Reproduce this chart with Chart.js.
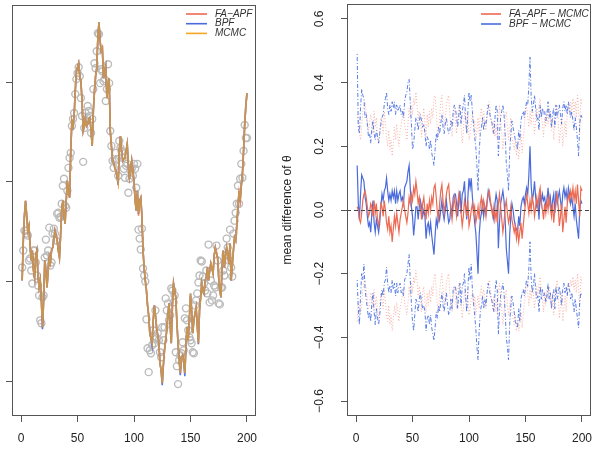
<!DOCTYPE html>
<html>
<head>
<meta charset="utf-8">
<script src="https://cdn.jsdelivr.net/npm/chart.js@4.4.0/dist/chart.umd.min.js"></script>
<style>
  html, body { margin: 0; padding: 0; background: #fff; }
  #wrap { position: relative; width: 592px; height: 450px; }
  canvas { position: absolute; top: 0; }
  #left { left: 0; }
  #right { left: 270px; }
</style>
</head>
<body>
<div id="wrap">
  <canvas id="left" width="270" height="450"></canvas>
  <canvas id="right" width="322" height="450"></canvas>
</div>
<script>
// time steps and axis ticks
const steps = Array.from({ length: 200 }, (_, i) => i + 1);
const xTicks = [0, 50, 100, 150, 200];
const leftYTicks = [-1, 0, 1, 2];
const rightYTicks = [-0.6, -0.4, -0.2, 0, 0.2, 0.4, 0.6];

// left panel: observations (grey circles) and filtered means
const observations = [
  0.14, 0.31, 0.51, 0.51, 0.48, 0.46, 0.21, 0.23, 0.11, -0.02,
  0.31, 0.31, 0.19, 0.06, -0.04, -0.14, -0.39, -0.42, -0.16, -0.14,
  0.24, 0.42, 0.26, 0.31, 0.54, 0.16, 0.19, 0.48, 0.53, 0.48,
  0.41, 0.68, 0.69, 0.64, 0.65, 0.78, 0.96, 1.03, 0.76, 0.74,
  0.91, 1.14, 1.24, 1.29, 1.56, 1.63, 1.69, 1.88, 2.03, 2.09,
  2.15, 2.06, 1.84, 1.66, 1.20, 1.54, 1.69, 1.61, 1.76, 1.71,
  1.66, 1.49, 1.63, 1.93, 2.19, 2.14, 2.31, 2.49, 2.48, 1.99,
  2.13, 2.11, 2.01, 2.03, 1.81, 1.93, 2.18, 1.99, 1.51, 1.36,
  1.21, 1.14, 1.21, 1.29, 1.23, 1.06, 1.41, 1.34, 1.31, 1.24,
  1.13, 1.04, 1.16, 1.18, 0.89, 1.03, 1.11, 1.13, 1.06, 1.18,
  1.13, 0.94, 1.18, 0.52, 0.43, 0.32, 0.53, 0.13, 0.06, 0.00,
  -0.38, -0.67, -0.91, -0.69, -0.72, -0.64, -0.49, -0.62, -0.29, -0.57,
  -0.52, -0.59, -0.71, -0.76, -0.46, -0.59, -0.46, -0.17, -0.29, -0.22,
  -0.39, -0.34, -0.07, -0.09, -0.21, -0.14, -0.71, -0.85, -1.03, -0.79,
  -0.74, -0.72, -0.61, -0.69, -0.37, -0.27, -0.39, -0.49, -0.56, -0.59,
  -0.62, -0.71, -0.72, -0.24, -0.19, -0.12, -0.01, 0.06, 0.21, 0.20,
  0.05, -0.02, -0.09, 0.11, -0.12, 0.37, -0.21, 0.01, -0.19, -0.14,
  -0.04, -0.06, 0.36, 0.21, -0.22, -0.23, -0.06, -0.06, 0.11, 0.06,
  0.26, 0.43, 0.34, 0.21, 0.52, 0.14, 0.05, 0.48, 0.61, 0.69,
  0.78, 0.96, 0.78, 1.03, 1.18, 1.04, 1.31, 1.57, 1.44, 1.44
];

const faApfMean = [
  0.01, 0.41, 0.66, 0.81, 0.66, 0.51, 0.56, 0.36, 0.21, 0.31,
  0.11, 0.04, 0.26, 0.31, 0.06, -0.06, 0.01, -0.19, -0.46, -0.19,
  0.21, 0.11, -0.06, 0.11, 0.24, 0.19, 0.31, 0.34, 0.41, 0.51,
  0.46, 0.41, 0.31, 0.24, 0.46, 0.71, 0.81, 0.66, 0.58, 0.81,
  1.01, 0.91, 0.84, 1.31, 1.61, 1.56, 1.66, 1.91, 2.11, 2.15,
  2.19, 2.06, 2.01, 1.81, 1.51, 1.56, 1.64, 1.56, 1.58, 1.63,
  1.64, 1.51, 1.36, 1.71, 1.91, 2.06, 2.14, 2.44, 2.60, 2.41,
  2.31, 2.34, 2.04, 2.11, 2.16, 1.84, 1.96, 2.04, 1.51, 1.36,
  1.21, 1.19, 1.14, 1.11, 1.05, 0.99, 1.31, 1.46, 1.31, 1.21,
  1.23, 1.24, 1.31, 1.38, 1.16, 1.04, 1.11, 1.21, 1.11, 1.01,
  0.81, 0.71, 0.91, 0.66, 0.81, 0.84, 0.66, 0.31, 0.14, 0.01,
  -0.09, -0.24, -0.34, -0.52, -0.57, -0.62, -0.39, -0.24, -0.34, -0.46,
  -0.54, -0.62, -0.82, -0.89, -1.02, -0.84, -0.69, -0.59, -0.49, -0.34,
  -0.22, -0.44, -0.62, -0.24, -0.02, -0.09, -0.16, -0.42, -0.62, -0.79,
  -0.92, -0.76, -0.74, -0.79, -0.92, -0.64, -0.46, -0.59, -0.39, -0.14,
  -0.29, -0.52, -0.39, -0.32, -0.26, -0.44, -0.62, -0.29, -0.16, -0.02,
  -0.09, -0.12, 0.01, 0.04, 0.14, 0.01, 0.11, 0.18, 0.13, 0.08,
  0.26, 0.34, 0.29, 0.24, 0.04, -0.09, -0.16, 0.16, 0.31, 0.14,
  0.26, 0.34, 0.26, 0.18, 0.38, 0.01, 0.16, 0.31, 0.44, 0.41,
  0.56, 0.74, 0.89, 0.81, 0.96, 1.08, 1.31, 1.58, 1.76, 1.89
];

const bpfMean = [
  0.01, 0.41, 0.66, 0.81, 0.66, 0.51, 0.56, 0.36, 0.21, 0.31,
  0.11, 0.04, 0.26, 0.31, 0.06, -0.06, 0.01, -0.19, -0.48, -0.19,
  0.21, 0.11, -0.06, 0.11, 0.24, 0.19, 0.31, 0.34, 0.41, 0.51,
  0.46, 0.41, 0.31, 0.24, 0.46, 0.71, 0.81, 0.66, 0.58, 0.81,
  1.01, 0.91, 0.84, 1.31, 1.61, 1.56, 1.66, 1.91, 2.11, 2.15,
  2.19, 2.06, 2.01, 1.81, 1.51, 1.56, 1.64, 1.56, 1.58, 1.63,
  1.64, 1.51, 1.36, 1.71, 1.91, 2.06, 2.14, 2.44, 2.60, 2.41,
  2.31, 2.34, 2.04, 2.11, 2.16, 1.84, 1.96, 2.04, 1.51, 1.36,
  1.21, 1.19, 1.14, 1.11, 1.05, 0.97, 1.31, 1.46, 1.31, 1.21,
  1.23, 1.24, 1.31, 1.38, 1.16, 1.04, 1.11, 1.21, 1.11, 1.01,
  0.81, 0.71, 0.91, 0.68, 0.81, 0.84, 0.66, 0.31, 0.12, 0.01,
  -0.09, -0.24, -0.34, -0.52, -0.57, -0.64, -0.39, -0.24, -0.34, -0.46,
  -0.54, -0.62, -0.82, -0.89, -1.04, -0.84, -0.69, -0.59, -0.49, -0.34,
  -0.22, -0.44, -0.62, -0.24, -0.02, -0.09, -0.16, -0.42, -0.62, -0.79,
  -0.94, -0.76, -0.74, -0.79, -0.95, -0.64, -0.46, -0.59, -0.39, -0.12,
  -0.29, -0.52, -0.39, -0.32, -0.26, -0.44, -0.63, -0.29, -0.16, -0.02,
  -0.09, -0.12, 0.01, 0.04, 0.14, 0.01, 0.11, 0.18, 0.13, 0.08,
  0.26, 0.34, 0.29, 0.24, 0.03, -0.09, -0.16, 0.16, 0.31, 0.14,
  0.26, 0.34, 0.26, 0.18, 0.38, 0.01, 0.16, 0.31, 0.44, 0.41,
  0.56, 0.74, 0.91, 0.81, 0.96, 1.08, 1.31, 1.58, 1.76, 1.89
];

const mcmcMean = [
  0.01, 0.41, 0.66, 0.81, 0.66, 0.51, 0.56, 0.36, 0.21, 0.31,
  0.11, 0.04, 0.26, 0.31, 0.06, -0.06, 0.01, -0.19, -0.46, -0.19,
  0.21, 0.11, -0.06, 0.11, 0.24, 0.19, 0.31, 0.34, 0.41, 0.51,
  0.46, 0.41, 0.31, 0.24, 0.46, 0.71, 0.81, 0.66, 0.58, 0.81,
  1.01, 0.91, 0.84, 1.31, 1.61, 1.56, 1.66, 1.91, 2.11, 2.15,
  2.19, 2.06, 2.01, 1.81, 1.51, 1.56, 1.64, 1.56, 1.58, 1.63,
  1.64, 1.51, 1.36, 1.71, 1.91, 2.06, 2.14, 2.44, 2.60, 2.41,
  2.31, 2.34, 2.04, 2.11, 2.16, 1.84, 1.96, 2.04, 1.51, 1.36,
  1.21, 1.19, 1.14, 1.11, 1.05, 0.99, 1.31, 1.46, 1.31, 1.21,
  1.23, 1.24, 1.31, 1.38, 1.16, 1.04, 1.11, 1.21, 1.11, 1.01,
  0.81, 0.71, 0.91, 0.68, 0.81, 0.84, 0.66, 0.31, 0.14, 0.01,
  -0.09, -0.24, -0.34, -0.52, -0.57, -0.62, -0.39, -0.24, -0.34, -0.46,
  -0.54, -0.62, -0.82, -0.89, -1.02, -0.84, -0.69, -0.59, -0.49, -0.34,
  -0.22, -0.44, -0.62, -0.24, -0.02, -0.09, -0.16, -0.42, -0.62, -0.79,
  -0.92, -0.76, -0.74, -0.79, -0.92, -0.64, -0.46, -0.59, -0.39, -0.12,
  -0.29, -0.52, -0.39, -0.32, -0.26, -0.44, -0.62, -0.29, -0.16, -0.02,
  -0.09, -0.12, 0.01, 0.04, 0.14, 0.01, 0.11, 0.18, 0.13, 0.08,
  0.26, 0.34, 0.29, 0.24, 0.04, -0.09, -0.16, 0.16, 0.31, 0.14,
  0.26, 0.34, 0.26, 0.18, 0.38, 0.01, 0.16, 0.31, 0.44, 0.41,
  0.56, 0.74, 0.91, 0.81, 0.96, 1.08, 1.31, 1.58, 1.76, 1.89
];

// right panel: mean difference of theta against MCMC, with bands
const faDiff = [
  0.01, 0.00, -0.03, -0.04, -0.01, 0.03, 0.05, 0.06, 0.04, 0.01,
  -0.02, -0.01, 0.02, 0.01, -0.02, 0.03, -0.01, 0.02, -0.03, -0.05,
  -0.02, 0.02, 0.01, -0.02, 0.03, 0.00, -0.04, -0.06, -0.02, -0.07,
  -0.05, -0.10, -0.06, -0.02, -0.05, -0.01, -0.04, -0.07, -0.03, -0.01,
  0.01, 0.03, 0.00, -0.02, -0.04, -0.01, 0.04, 0.02, 0.05, 0.03,
  0.07, 0.05, 0.09, 0.06, 0.02, 0.04, 0.01, -0.03, 0.02, 0.04,
  0.00, -0.03, 0.02, -0.01, 0.03, 0.00, 0.04, 0.02, 0.07, 0.08,
  0.04, -0.01, -0.03, 0.02, 0.06, 0.08, 0.03, -0.01, 0.02, 0.05,
  0.07, 0.08, 0.03, 0.00, -0.03, 0.01, 0.04, 0.01, -0.02, 0.02,
  0.05, 0.02, -0.01, -0.05, -0.02, 0.03, 0.01, -0.02, 0.03, -0.05,
  -0.03, 0.00, 0.02, -0.01, 0.01, -0.04, -0.02, 0.01, -0.03, 0.02,
  0.04, 0.00, 0.03, 0.01, -0.02, 0.02, 0.05, 0.06, 0.03, 0.00,
  -0.02, 0.01, -0.03, 0.00, -0.04, 0.02, 0.05, 0.01, -0.03, -0.07,
  -0.04, 0.01, 0.03, -0.01, -0.04, -0.02, 0.01, -0.03, -0.05, -0.07,
  -0.05, -0.09, -0.06, -0.10, -0.07, -0.04, -0.09, -0.05, -0.01, 0.02,
  0.05, 0.02, -0.01, 0.03, 0.00, 0.04, 0.02, -0.02, 0.01, 0.04,
  0.01, 0.05, 0.07, 0.03, 0.00, -0.03, 0.02, -0.01, 0.03, 0.00,
  0.04, 0.01, -0.02, 0.02, -0.04, 0.00, 0.03, 0.05, 0.01, -0.05,
  -0.02, 0.02, -0.07, -0.03, 0.01, -0.04, 0.02, 0.05, 0.03, 0.06,
  0.04, 0.07, 0.03, 0.06, 0.02, 0.08, 0.03, -0.02, 0.07, 0.06
];

const bpfDiff = [
  0.14, 0.02, -0.03, 0.05, 0.11, 0.10, 0.09, 0.04, 0.02, -0.02,
  -0.05, -0.04, -0.07, -0.01, 0.03, -0.04, -0.07, -0.03, -0.05, -0.07,
  -0.04, 0.01, 0.05, 0.03, 0.06, 0.07, 0.10, 0.06, 0.03, 0.05,
  0.03, 0.06, 0.04, 0.06, 0.02, 0.06, 0.03, 0.05, 0.06, 0.03,
  0.04, 0.02, 0.07, 0.08, 0.09, 0.12, 0.14, 0.07, 0.01, -0.02,
  -0.08, -0.04, 0.01, 0.01, -0.03, 0.01, 0.03, 0.01, -0.02, 0.00,
  -0.02, -0.09, -0.05, -0.04, -0.07, -0.04, -0.08, -0.11, -0.14, -0.08,
  -0.03, -0.05, -0.01, -0.03, 0.00, 0.03, -0.01, -0.03, 0.00, 0.03,
  -0.01, -0.04, -0.03, 0.01, -0.02, 0.04, 0.05, 0.05, 0.02, -0.02,
  0.03, 0.06, -0.01, 0.05, 0.06, 0.09, 0.02, -0.03, 0.04, 0.10,
  0.07, 0.10, 0.04, 0.00, -0.04, -0.07, -0.13, -0.20, -0.08, -0.03,
  -0.01, 0.02, -0.02, 0.01, -0.01, 0.03, 0.06, 0.04, 0.02, 0.01,
  -0.01, -0.03, 0.02, 0.05, 0.03, -0.12, -0.04, 0.02, 0.04, 0.06,
  0.03, -0.03, -0.12, -0.16, -0.20, -0.08, -0.02, 0.02, 0.00, -0.03,
  -0.05, -0.06, -0.07, -0.02, -0.05, 0.01, 0.03, 0.04, 0.02, 0.05,
  0.07, 0.05, 0.11, 0.20, 0.08, 0.03, 0.05, 0.09, 0.04, 0.01,
  0.02, -0.03, 0.06, 0.02, 0.05, 0.03, 0.04, 0.01, 0.03, 0.07,
  0.02, 0.04, -0.01, 0.03, 0.05, -0.01, 0.06, 0.02, 0.04, 0.06,
  0.03, 0.00, 0.05, 0.07, 0.04, 0.06, 0.03, 0.07, 0.05, 0.02,
  0.04, 0.01, -0.02, 0.02, -0.03, -0.06, -0.09, 0.00, 0.03, 0.02
];

const faUpper = [
  0.30, 0.27, 0.24, 0.22, 0.26, 0.31, 0.33, 0.34, 0.31, 0.28,
  0.25, 0.27, 0.30, 0.28, 0.24, 0.31, 0.26, 0.29, 0.23, 0.21,
  0.25, 0.29, 0.28, 0.24, 0.31, 0.27, 0.23, 0.20, 0.25, 0.19,
  0.22, 0.17, 0.21, 0.26, 0.22, 0.27, 0.23, 0.20, 0.25, 0.27,
  0.29, 0.31, 0.27, 0.25, 0.22, 0.27, 0.32, 0.29, 0.33, 0.30,
  0.35, 0.33, 0.37, 0.33, 0.28, 0.31, 0.28, 0.23, 0.29, 0.32,
  0.27, 0.23, 0.30, 0.26, 0.31, 0.27, 0.32, 0.29, 0.35, 0.36,
  0.31, 0.25, 0.23, 0.29, 0.34, 0.36, 0.30, 0.26, 0.29, 0.33,
  0.35, 0.36, 0.30, 0.27, 0.23, 0.28, 0.32, 0.28, 0.24, 0.29,
  0.33, 0.29, 0.26, 0.21, 0.25, 0.31, 0.28, 0.24, 0.30, 0.22,
  0.24, 0.27, 0.30, 0.26, 0.28, 0.22, 0.25, 0.29, 0.24, 0.30,
  0.32, 0.27, 0.31, 0.28, 0.25, 0.29, 0.33, 0.34, 0.30, 0.27,
  0.24, 0.28, 0.23, 0.27, 0.22, 0.29, 0.33, 0.28, 0.24, 0.19,
  0.23, 0.29, 0.31, 0.26, 0.22, 0.25, 0.29, 0.23, 0.21, 0.19,
  0.22, 0.17, 0.21, 0.16, 0.20, 0.24, 0.18, 0.22, 0.27, 0.30,
  0.33, 0.29, 0.26, 0.31, 0.27, 0.32, 0.29, 0.24, 0.28, 0.32,
  0.28, 0.33, 0.35, 0.30, 0.27, 0.23, 0.29, 0.26, 0.31, 0.27,
  0.32, 0.28, 0.25, 0.29, 0.22, 0.27, 0.31, 0.33, 0.28, 0.21,
  0.25, 0.29, 0.20, 0.24, 0.28, 0.23, 0.30, 0.33, 0.30, 0.34,
  0.31, 0.35, 0.30, 0.34, 0.29, 0.36, 0.31, 0.24, 0.35, 0.33
];

const faLower = [
  -0.35, -0.29, -0.31, -0.33, -0.30, -0.25, -0.23, -0.22, -0.25, -0.28,
  -0.31, -0.30, -0.26, -0.28, -0.31, -0.25, -0.30, -0.27, -0.32, -0.34,
  -0.30, -0.26, -0.28, -0.31, -0.25, -0.29, -0.33, -0.35, -0.30, -0.36,
  -0.33, -0.38, -0.34, -0.30, -0.33, -0.29, -0.32, -0.35, -0.31, -0.29,
  -0.27, -0.25, -0.29, -0.31, -0.33, -0.29, -0.24, -0.27, -0.23, -0.26,
  -0.21, -0.23, -0.19, -0.22, -0.27, -0.24, -0.28, -0.32, -0.26, -0.24,
  -0.29, -0.32, -0.26, -0.30, -0.25, -0.29, -0.24, -0.27, -0.21, -0.20,
  -0.25, -0.30, -0.32, -0.26, -0.22, -0.20, -0.25, -0.30, -0.27, -0.23,
  -0.21, -0.20, -0.26, -0.29, -0.32, -0.27, -0.24, -0.28, -0.31, -0.26,
  -0.23, -0.27, -0.30, -0.34, -0.31, -0.25, -0.28, -0.31, -0.25, -0.33,
  -0.31, -0.28, -0.26, -0.30, -0.27, -0.33, -0.30, -0.27, -0.31, -0.26,
  -0.24, -0.28, -0.25, -0.27, -0.31, -0.26, -0.23, -0.22, -0.25, -0.28,
  -0.31, -0.27, -0.32, -0.28, -0.33, -0.26, -0.23, -0.27, -0.31, -0.36,
  -0.32, -0.27, -0.25, -0.30, -0.33, -0.30, -0.27, -0.32, -0.34, -0.36,
  -0.33, -0.38, -0.35, -0.38, -0.36, -0.32, -0.37, -0.33, -0.29, -0.26,
  -0.23, -0.26, -0.30, -0.25, -0.28, -0.24, -0.26, -0.31, -0.27, -0.24,
  -0.27, -0.23, -0.21, -0.25, -0.28, -0.32, -0.26, -0.30, -0.25, -0.28,
  -0.24, -0.27, -0.31, -0.26, -0.33, -0.28, -0.25, -0.22, -0.27, -0.34,
  -0.30, -0.26, -0.35, -0.31, -0.27, -0.32, -0.26, -0.23, -0.25, -0.22,
  -0.24, -0.21, -0.25, -0.22, -0.26, -0.20, -0.25, -0.30, -0.21, -0.23
];

const bpfUpper = [
  0.49, 0.26, 0.24, 0.32, 0.38, 0.36, 0.35, 0.29, 0.30, 0.27,
  0.23, 0.24, 0.21, 0.26, 0.28, 0.24, 0.22, 0.25, 0.23, 0.21,
  0.24, 0.27, 0.29, 0.30, 0.33, 0.35, 0.37, 0.32, 0.30, 0.33,
  0.31, 0.34, 0.32, 0.34, 0.30, 0.33, 0.31, 0.32, 0.33, 0.30,
  0.31, 0.29, 0.34, 0.36, 0.37, 0.40, 0.41, 0.34, 0.27, 0.19,
  0.21, 0.25, 0.29, 0.28, 0.25, 0.28, 0.30, 0.28, 0.26, 0.27,
  0.24, 0.20, 0.23, 0.22, 0.19, 0.22, 0.18, 0.16, 0.14, 0.19,
  0.24, 0.22, 0.26, 0.24, 0.27, 0.30, 0.26, 0.24, 0.27, 0.29,
  0.26, 0.24, 0.25, 0.28, 0.26, 0.31, 0.33, 0.32, 0.29, 0.26,
  0.30, 0.33, 0.27, 0.31, 0.33, 0.36, 0.29, 0.24, 0.31, 0.37,
  0.34, 0.36, 0.31, 0.27, 0.23, 0.20, 0.14, 0.06, 0.18, 0.24,
  0.26, 0.29, 0.25, 0.28, 0.27, 0.30, 0.33, 0.31, 0.29, 0.28,
  0.26, 0.24, 0.29, 0.33, 0.31, 0.17, 0.24, 0.29, 0.31, 0.33,
  0.30, 0.24, 0.15, 0.11, 0.06, 0.18, 0.24, 0.28, 0.26, 0.24,
  0.22, 0.21, 0.19, 0.25, 0.22, 0.28, 0.30, 0.31, 0.29, 0.32,
  0.34, 0.33, 0.39, 0.48, 0.36, 0.31, 0.33, 0.36, 0.32, 0.28,
  0.29, 0.25, 0.33, 0.29, 0.32, 0.30, 0.31, 0.28, 0.30, 0.34,
  0.29, 0.31, 0.26, 0.30, 0.32, 0.26, 0.33, 0.29, 0.31, 0.33,
  0.30, 0.27, 0.32, 0.34, 0.31, 0.33, 0.30, 0.34, 0.32, 0.29,
  0.31, 0.28, 0.25, 0.29, 0.26, 0.22, 0.17, 0.27, 0.30, 0.29
];

const bpfLower = [
  -0.22, -0.31, -0.36, -0.27, -0.20, -0.22, -0.17, -0.25, -0.28, -0.31,
  -0.34, -0.32, -0.35, -0.29, -0.26, -0.32, -0.36, -0.31, -0.34, -0.36,
  -0.33, -0.28, -0.25, -0.27, -0.23, -0.22, -0.18, -0.23, -0.26, -0.24,
  -0.26, -0.22, -0.25, -0.23, -0.27, -0.23, -0.26, -0.24, -0.23, -0.26,
  -0.25, -0.27, -0.22, -0.21, -0.20, -0.17, -0.14, -0.22, -0.29, -0.35,
  -0.38, -0.33, -0.28, -0.29, -0.32, -0.28, -0.26, -0.29, -0.31, -0.30,
  -0.32, -0.38, -0.34, -0.33, -0.36, -0.33, -0.37, -0.39, -0.41, -0.37,
  -0.32, -0.34, -0.30, -0.32, -0.29, -0.26, -0.30, -0.32, -0.29, -0.26,
  -0.30, -0.33, -0.32, -0.28, -0.31, -0.25, -0.24, -0.24, -0.27, -0.31,
  -0.26, -0.23, -0.30, -0.24, -0.23, -0.20, -0.27, -0.32, -0.25, -0.18,
  -0.22, -0.17, -0.25, -0.29, -0.33, -0.37, -0.43, -0.47, -0.38, -0.32,
  -0.30, -0.27, -0.31, -0.28, -0.30, -0.26, -0.23, -0.25, -0.27, -0.28,
  -0.30, -0.32, -0.26, -0.22, -0.25, -0.39, -0.32, -0.27, -0.25, -0.23,
  -0.26, -0.32, -0.40, -0.43, -0.47, -0.36, -0.30, -0.27, -0.29, -0.32,
  -0.35, -0.36, -0.37, -0.31, -0.35, -0.28, -0.26, -0.25, -0.27, -0.24,
  -0.22, -0.24, -0.18, -0.10, -0.21, -0.26, -0.24, -0.20, -0.25, -0.28,
  -0.27, -0.32, -0.24, -0.28, -0.25, -0.27, -0.26, -0.29, -0.27, -0.23,
  -0.28, -0.26, -0.31, -0.27, -0.25, -0.31, -0.24, -0.28, -0.26, -0.24,
  -0.27, -0.30, -0.25, -0.23, -0.26, -0.24, -0.27, -0.23, -0.25, -0.28,
  -0.26, -0.29, -0.32, -0.28, -0.31, -0.34, -0.37, -0.29, -0.26, -0.27
];

const FONT = '"Liberation Sans", Arimo, Arial, sans-serif';
const AXIS = '#555';
const TEXT = '#222';

Chart.defaults.font.family = FONT;
Chart.defaults.font.size = 12;

function pts(values) {
  return values.map((v, i) => ({ x: steps[i], y: v }));
}

function fmtTick(v) {
  return v.toFixed(1).replace('-', '\u2212');
}

// box, zero line, rotated y labels and the inset legend, R style
const framePlugin = {
  id: 'frame',
  beforeDraw(chart) {
    const { ctx, width, height } = chart;
    ctx.save();
    ctx.fillStyle = '#fff';
    ctx.fillRect(0, 0, width, height);
    ctx.restore();
  },
  afterDatasetsDraw(chart, args, opts) {
    const { ctx, chartArea: a, scales } = chart;
    ctx.save();
    if (opts.zeroLine) {
      const y = Math.round(scales.y.getPixelForValue(0)) + 0.5;
      ctx.setLineDash([4, 3]);
      ctx.strokeStyle = '#444';
      ctx.lineWidth = 1;
      ctx.beginPath();
      ctx.moveTo(a.left, y);
      ctx.lineTo(a.right, y);
      ctx.stroke();
      ctx.setLineDash([]);
    }
    const l = Math.round(a.left) + 0.5, t = Math.round(a.top) + 0.5;
    const r = Math.round(a.right) - 0.5, b = Math.round(a.bottom) - 0.5;
    ctx.strokeStyle = AXIS;
    ctx.lineWidth = 1;
    ctx.strokeRect(l, t, r - l, b - t);

    if (opts.yLabels) {
      ctx.font = '12px ' + FONT;
      ctx.fillStyle = TEXT;
      ctx.textAlign = 'center';
      ctx.textBaseline = 'middle';
      scales.y.ticks.forEach(tk => {
        const y = scales.y.getPixelForValue(tk.value);
        ctx.save();
        ctx.translate(opts.yLabels.x, y);
        ctx.rotate(-Math.PI / 2);
        ctx.fillText(fmtTick(tk.value), 0, 0);
        ctx.restore();
      });
    }
    if (opts.yTitle) {
      ctx.font = '12px ' + FONT;
      ctx.fillStyle = TEXT;
      ctx.textAlign = 'center';
      ctx.textBaseline = 'middle';
      ctx.save();
      ctx.translate(opts.yTitle.x, (a.top + a.bottom) / 2);
      ctx.rotate(-Math.PI / 2);
      ctx.fillText(opts.yTitle.text, 0, 0);
      ctx.restore();
    }
    if (opts.legend) {
      const lg = opts.legend;
      ctx.font = 'italic 10px ' + FONT;
      ctx.textAlign = 'left';
      ctx.textBaseline = 'middle';
      chart.data.datasets.filter(d => d.legendLabel).forEach((d, i) => {
        const y = lg.y + i * lg.row;
        ctx.strokeStyle = d.legendColor;
        ctx.lineWidth = 1.6;
        ctx.beginPath();
        ctx.moveTo(lg.x, y);
        ctx.lineTo(lg.x + lg.len, y);
        ctx.stroke();
        ctx.fillStyle = '#333';
        ctx.fillText(d.legendLabel, lg.x + lg.len + lg.gap, y);
      });
    }
    ctx.restore();
  }
};

function xScale() {
  return {
    type: 'linear',
    min: -8,
    max: 208,
    afterBuildTicks: s => { s.ticks = xTicks.map(v => ({ value: v })); },
    afterFit: s => {
      s.height = 34;
      // tick labels may hang past the box, like in R
      s.paddingLeft = 0;
      s.paddingRight = 0;
    },
    grid: { drawOnChartArea: false, drawTicks: true, tickLength: 6, color: AXIS, lineWidth: 1 },
    border: { display: false },
    ticks: { color: TEXT, font: { size: 12 }, padding: 9, maxRotation: 0, autoSkip: false, callback: v => String(v) }
  };
}

function yScale(min, max, tickVals, width) {
  return {
    type: 'linear',
    min: min,
    max: max,
    afterBuildTicks: s => { s.ticks = tickVals.map(v => ({ value: v })); },
    afterFit: s => {
      s.width = width;
      s.paddingTop = 0;
      s.paddingBottom = 0;
    },
    grid: { drawOnChartArea: false, drawTicks: true, tickLength: 6, color: AXIS, lineWidth: 1 },
    border: { display: false },
    ticks: { display: false }
  };
}

const common = {
  type: 'line',
  plugins: [framePlugin]
};

new Chart(document.getElementById('left'), {
  ...common,
  data: {
    datasets: [
      {
        label: 'FA-APF', legendLabel: 'FA\u2212APF', legendColor: '#ec6a52',
        data: pts(faApfMean), borderColor: 'rgba(236,100,78,0.85)', borderWidth: 1.6,
        pointRadius: 0, order: 2
      },
      {
        label: 'BPF', legendLabel: 'BPF', legendColor: '#4a6bdc',
        data: pts(bpfMean), borderColor: 'rgba(65,105,225,0.9)', borderWidth: 1.6,
        pointRadius: 0, order: 1
      },
      {
        label: 'MCMC', legendLabel: 'MCMC', legendColor: '#f4a622',
        data: pts(mcmcMean), borderColor: 'rgba(245,165,30,0.72)', borderWidth: 1.7,
        pointRadius: 0, order: 0
      },
      {
        label: 'observations',
        data: pts(observations), showLine: false, pointRadius: 3.5, pointBorderWidth: 1.4,
        pointBorderColor: '#bcbcbc', pointBackgroundColor: 'rgba(0,0,0,0)', order: 3
      }
    ]
  },
  options: {
    responsive: false,
    animation: false,
    layout: { padding: { left: 0, top: 4, right: 14, bottom: 0 } },
    plugins: {
      legend: { display: false },
      tooltip: { enabled: false },
      frame: { legend: { x: 186, y: 14, row: 9.7, len: 21, gap: 8 } }
    },
    scales: {
      x: xScale(),
      y: yScale(-1.35, 2.77, leftYTicks, 12)
    }
  }
});

new Chart(document.getElementById('right'), {
  ...common,
  data: {
    datasets: [
      {
        label: 'FA-APF - MCMC', legendLabel: 'FA\u2212APF \u2212 MCMC', legendColor: '#ec6a52',
        data: pts(faDiff), borderColor: '#ec6a52', borderWidth: 1.2, pointRadius: 0, order: 0
      },
      {
        label: 'BPF - MCMC', legendLabel: 'BPF \u2212 MCMC', legendColor: '#4a6bdc',
        data: pts(bpfDiff), borderColor: '#4a6bdc', borderWidth: 1.2, pointRadius: 0, order: 1
      },
      {
        label: 'BPF upper', data: pts(bpfUpper), borderColor: 'rgba(65,105,225,0.85)',
        borderWidth: 1, borderDash: [1, 2, 4, 2], pointRadius: 0, order: 2
      },
      {
        label: 'BPF lower', data: pts(bpfLower), borderColor: 'rgba(65,105,225,0.85)',
        borderWidth: 1, borderDash: [1, 2, 4, 2], pointRadius: 0, order: 2
      },
      {
        label: 'FA-APF upper', data: pts(faUpper), borderColor: 'rgba(240,120,100,0.55)',
        borderWidth: 1, borderDash: [1, 2], pointRadius: 0, order: 3
      },
      {
        label: 'FA-APF lower', data: pts(faLower), borderColor: 'rgba(240,120,100,0.55)',
        borderWidth: 1, borderDash: [1, 2], pointRadius: 0, order: 3
      }
    ]
  },
  options: {
    responsive: false,
    animation: false,
    layout: { padding: { left: 0, top: 4, right: 1, bottom: 0 } },
    plugins: {
      legend: { display: false },
      tooltip: { enabled: false },
      frame: {
        zeroLine: true,
        yLabels: { x: 50 },
        yTitle: { x: 18, text: 'mean difference of \u03b8' },
        legend: { x: 211, y: 14, row: 10, len: 20, gap: 8 }
      }
    },
    scales: {
      x: xScale(),
      y: yScale(-0.647, 0.647, rightYTicks, 77)
    }
  }
});
</script>
</body>
</html>
